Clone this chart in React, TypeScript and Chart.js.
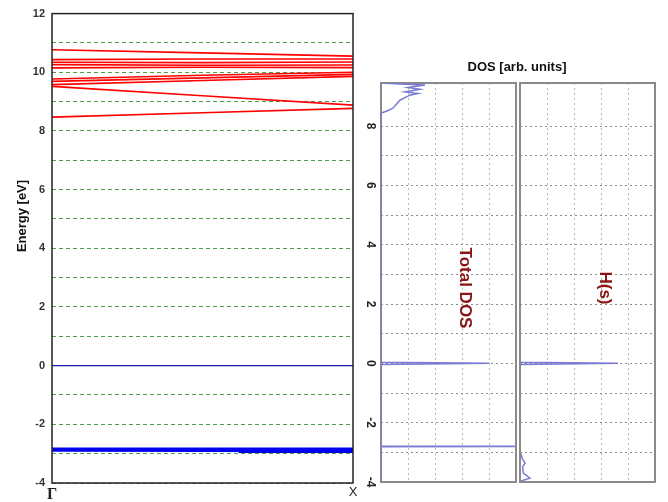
import React, { useEffect, useRef } from 'react';
import { Chart, registerables } from 'chart.js';

Chart.register(...registerables);
Chart.defaults.font.family = "'Liberation Sans', Arial, sans-serif";

// ---------- Band structure data ----------
const kPath = [0, 0.5, 1];
const kLabels = ['Γ', 'X'];
const conductionBands = [
  [10.77, 10.66, 10.55],
  [10.43, 10.45, 10.45],
  [10.34, 10.33, 10.35],
  [10.26, 10.24, 10.25],
  [10.15, 10.17, 10.16],
  [9.77, 9.9, 10.0],
  [9.69, 9.81, 9.93],
  [9.58, 9.72, 9.86],
  [9.52, 9.2, 8.88],
  [8.47, 8.62, 8.77],
];
const fermiBand = [0, 0, 0];
const lowBands = [
  [-2.84, -2.84, -2.84],
  [-2.88, -2.89, -2.9],
];
const lowBandTailK = [0.62, 1];
const lowBandTail = [-2.93, -2.93];
const bandTickLabels = [-4, -2, 0, 2, 4, 6, 8, 10, 12];

// ---------- DOS data ----------
const totalDosEnergy = [-4, -2.81, -2.8, -2.79, -0.04, 0, 0.04, 8.44, 8.5, 8.6, 8.87, 9.04, 9.1, 9.15, 9.24, 9.3, 9.38, 9.42, 9.45];
const totalDosValue = [0, 0, 5.6, 0, 0, 4.0, 0, 0, 0.2, 0.44, 0.7, 1.07, 1.37, 0.89, 1.44, 1.0, 1.63, 0.7, 0];
const hsDosEnergy = [-4, -3.97, -3.87, -3.7, -3.48, -3.37, -3.2, -2.95, -0.04, 0, 0.04, 9.45];
const hsDosValue = [0, 0.02, 0.37, 0.12, 0.1, 0.19, 0.08, 0, 0, 3.63, 0, 0];
const dosTickLabels = [-4, -2, 0, 2, 4, 6, 8];
const dosTitle = 'DOS [arb. units]';
const panelNames = ['Total DOS', 'H(s)'];

const framePlugin = (color: string, width: number, before: boolean) => {
  const draw = (chart: any) => {
    const { left, top, right, bottom } = chart.chartArea;
    const ctx = chart.ctx;
    ctx.save();
    ctx.strokeStyle = color;
    ctx.lineWidth = width;
    ctx.strokeRect(left, top, right - left, bottom - top);
    ctx.restore();
  };
  return before
    ? { id: 'frame', beforeDatasetsDraw: draw }
    : { id: 'frame', afterDatasetsDraw: draw };
};

function rotText(ctx: any, text: string, x: number, y: number, angle: number, font: string, color: string) {
  ctx.save();
  ctx.translate(x, y);
  ctx.rotate(angle);
  ctx.font = font;
  ctx.fillStyle = color;
  ctx.textAlign = 'center';
  ctx.textBaseline = 'middle';
  ctx.fillText(text, 0, 0);
  ctx.restore();
}

const line = (pts: { x: number; y: number }[], color: string, width: number) => ({
  data: pts,
  borderColor: color,
  borderWidth: width,
  pointRadius: 0,
  showLine: true,
  fill: false,
  tension: 0,
});

function dosScales() {
  return {
    x: {
      type: 'linear', min: 0, max: 5,
      grid: { color: '#9fcc9f', lineWidth: 1, drawTicks: false },
      border: { display: false, dash: [2, 3] },
      ticks: { display: false, stepSize: 1 },
      afterFit: (s: any) => { s.height = 0; },
    },
    y: {
      type: 'linear', min: -4, max: 9.45,
      grid: { color: '#8c8c8c', lineWidth: 1, drawTicks: false },
      border: { display: false, dash: [2, 3] },
      ticks: { display: false, stepSize: 1 },
      afterFit: (s: any) => { s.width = 0; },
    },
  };
}

export default function App() {
  const refA = useRef<HTMLCanvasElement>(null);
  const refB = useRef<HTMLCanvasElement>(null);
  const refC = useRef<HTMLCanvasElement>(null);

  useEffect(() => {
    const bandDatasets: any[] = [];
    conductionBands.forEach((b) => {
      bandDatasets.push(line(kPath.map((k, i) => ({ x: k, y: b[i] })), '#ff0000', 1.6));
    });
    bandDatasets.push(line(kPath.map((k, i) => ({ x: k, y: fermiBand[i] })), '#1a1aa8', 1.3));
    lowBands.forEach((b) => {
      bandDatasets.push(line(kPath.map((k, i) => ({ x: k, y: b[i] })), '#0000ee', 3));
    });
    bandDatasets.push(line(lowBandTailK.map((k, i) => ({ x: k, y: lowBandTail[i] })), '#0000ee', 3));

    const chartA = new Chart(refA.current as HTMLCanvasElement, {
      type: 'scatter',
      data: { datasets: bandDatasets },
      options: {
        responsive: false,
        animation: false,
        events: [],
        layout: { padding: { top: 12, right: 15, left: 0, bottom: 0 } },
        plugins: { legend: { display: false }, tooltip: { enabled: false } },
        scales: {
          x: {
            type: 'linear', min: 0, max: 1,
            grid: { display: false, drawTicks: false },
            border: { display: false },
            ticks: {
              stepSize: 1, autoSkip: false, maxRotation: 0, padding: 2, color: '#222',
              callback: (v: any) => (v === 0 ? kLabels[0] : v === 1 ? kLabels[1] : ''),
              font: (c: any) => (c.index === 0
                ? { family: "'Liberation Serif', serif", size: 16, weight: 'bold' }
                : { size: 13 }),
            },
            afterFit: (s: any) => { s.height = 19; },
          },
          y: {
            type: 'linear', min: -4, max: 12,
            grid: { color: '#4f9c4f', lineWidth: 1, drawTicks: false },
            border: { display: false, dash: [4, 3] },
            ticks: {
              stepSize: 1, autoSkip: false, padding: 7, color: '#333',
              font: { size: 11, weight: 'bold' },
              callback: (v: any) => (bandTickLabels.includes(v) ? String(v) : ''),
            },
            afterFit: (s: any) => { s.width = 52; },
          },
        },
      } as any,
      plugins: [
        framePlugin('#222', 1.5, false),
        {
          id: 'labelsA',
          afterDraw(chart: any) {
            rotText(chart.ctx, 'Energy [eV]', 22, 216, -Math.PI / 2, "bold 13px 'Liberation Sans', Arial", '#111');
          },
        },
      ],
    });

    const dosColor = '#7b7bd6';

    const chartB = new Chart(refB.current as HTMLCanvasElement, {
      type: 'scatter',
      data: {
        datasets: [line(totalDosEnergy.map((e, i) => ({ x: totalDosValue[i], y: e })), dosColor, 1.5)],
      },
      options: {
        responsive: false,
        animation: false,
        events: [],
        layout: { padding: { left: 26, top: 83, right: 152, bottom: 20 } },
        plugins: { legend: { display: false }, tooltip: { enabled: false } },
        scales: dosScales(),
      } as any,
      plugins: [
        framePlugin('#8a8a8a', 2, true),
        {
          id: 'labelsB',
          afterDraw(chart: any) {
            const ctx = chart.ctx;
            const ys = chart.scales.y;
            dosTickLabels.forEach((v) => {
              rotText(ctx, String(v), 15, ys.getPixelForValue(v), Math.PI / 2, "bold 12px 'Liberation Sans', Arial", '#222');
            });
            rotText(ctx, dosTitle, 162, 67, 0, "bold 13px 'Liberation Sans', Arial", '#111');
            rotText(ctx, panelNames[0], 110, 288, Math.PI / 2, "bold 17px 'Liberation Sans', Arial", '#8b1515');
          },
        },
      ],
    });

    const chartC = new Chart(refC.current as HTMLCanvasElement, {
      type: 'scatter',
      data: {
        datasets: [line(hsDosEnergy.map((e, i) => ({ x: hsDosValue[i], y: e })), dosColor, 1.5)],
      },
      options: {
        responsive: false,
        animation: false,
        events: [],
        layout: { padding: { left: 2, top: 83, right: 13, bottom: 20 } },
        plugins: { legend: { display: false }, tooltip: { enabled: false } },
        scales: dosScales(),
      } as any,
      plugins: [
        framePlugin('#8a8a8a', 2, false),
        {
          id: 'labelsC',
          afterDraw(chart: any) {
            rotText(chart.ctx, panelNames[1], 87, 288, Math.PI / 2, "bold 17px 'Liberation Sans', Arial", '#8b1515');
          },
        },
      ],
    });

    return () => {
      chartA.destroy();
      chartB.destroy();
      chartC.destroy();
    };
  }, []);

  return (
    <div style={{ position: 'absolute', left: 0, top: 0, width: 668, height: 502, background: '#fff', overflow: 'hidden' }}>
      <canvas ref={refA} width={368} height={502} style={{ position: 'absolute', left: 0, top: 0 }} />
      <canvas ref={refB} width={313} height={502} style={{ position: 'absolute', left: 355, top: 0 }} />
      <canvas ref={refC} width={150} height={502} style={{ position: 'absolute', left: 518, top: 0 }} />
    </div>
  );
}
